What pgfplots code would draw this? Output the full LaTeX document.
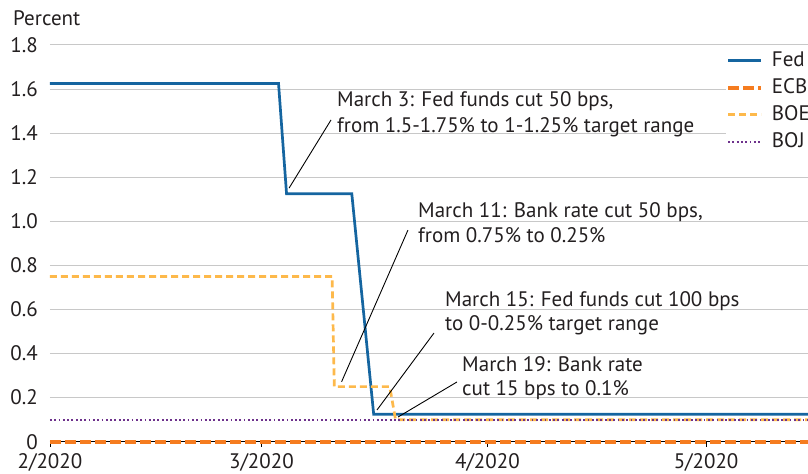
\documentclass[border=0pt]{standalone}
\usepackage{fontspec}
\setmainfont{PT Sans}
\usepackage{pgfplots}
\pgfplotsset{compat=1.18}
\definecolor{fedblue}{RGB}{21,101,160}
\definecolor{ecborange}{RGB}{245,124,32}
\definecolor{boeorange}{RGB}{253,185,75}
\definecolor{bojpurple}{RGB}{110,50,140}
\definecolor{gridgray}{RGB}{200,200,200}
\definecolor{txt}{RGB}{35,31,32}
\begin{document}
\fontsize{21bp}{25bp}\selectfont
\begin{tikzpicture}
\begin{axis}[
  scale only axis, width=758bp, height=396.7bp,
  xmin=0, xmax=103.98, ymin=0, ymax=1.8,
  axis x line*=bottom, axis y line*=left,
  y axis line style={draw=none},
  x axis line style={black, line width=0.8bp},
  xtick={0,29,60,90}, xticklabels={2/2020,3/2020,4/2020,5/2020},
  ytick={0,0.2,0.4,0.6,0.8,1.0,1.2,1.4,1.6,1.8},
  yticklabels={0,0.2,0.4,0.6,0.8,1.0,1.2,1.4,1.6,1.8},
  tick align=outside, major tick length=5bp,
  xtick style={black, line width=0.8bp},
  ytick style={draw=none},
  ticklabel style={text=txt, font=\fontsize{21bp}{25bp}\selectfont},
  yticklabel style={xshift=0bp},
  ymajorgrids, grid style={gridgray, line width=1bp},
  clip=false,
  legend style={at={(rel axis cs:0.8918,0.990)}, anchor=north west, draw=none, fill=white,
    inner xsep=0bp, inner ysep=2bp, text=txt, font=\fontsize{21bp}{25bp}\selectfont,
    row sep=8bp, column sep=8.7bp,
    nodes={inner sep=0bp, text height=15bp, text depth=4bp}},
  legend cell align=left,
  legend image code/.code={\draw[#1] (0bp,0bp) -- (33bp,0bp);},
]
\addplot[fedblue, line width=2.7bp, line join=miter] coordinates {(0,1.625) (31.35,1.625) (32.45,1.125) (41.4,1.125) (44.4,0.125) (103.98,0.125)};
\addlegendentry{Fed}
\addplot[ecborange, line width=4bp, dash pattern=on 11bp off 4bp] coordinates {(0,0) (103.98,0)};
\addlegendentry{ECB}
\addplot[boeorange, line width=2.7bp, dash pattern=on 7bp off 4bp] coordinates {(0,0.75) (38.7,0.75) (39.0,0.25) (46.6,0.25) (47.4,0.1) (103.98,0.1)};
\addlegendentry{BOE}
\addplot[bojpurple, line width=2bp, dash pattern=on 1.8bp off 2.5bp] coordinates {(0,0.1) (103.98,0.1)};
\addlegendentry{BOJ}
% leader lines
\draw[black, line width=0.9bp] (axis cs:38.55,1.46) -- (axis cs:32.8,1.151);
\draw[black, line width=0.9bp] (axis cs:49.1,0.960) -- (axis cs:40.0,0.272);
\draw[black, line width=0.9bp] (axis cs:52.67,0.493) -- (axis cs:44.86,0.144);
\draw[black, line width=0.9bp] (axis cs:55.83,0.271) -- (axis cs:47.74,0.112);
% annotation text
\begin{scope}[every node/.style={anchor=base west, inner sep=0bp, text=txt}]
\node at (axis cs:39.37,1.519) {March 3: Fed funds cut 50 bps,};
\node at (axis cs:39.37,1.405) {from 1.5-1.75\% to 1-1.25\% target range};
\node at (axis cs:50.48,1.0195) {March 11: Bank rate cut 50 bps,};
\node at (axis cs:50.48,0.906) {from 0.75\% to 0.25\%};
\node at (axis cs:54.18,0.6157) {March 15: Fed funds cut 100 bps};
\node at (axis cs:54.18,0.5068) {to 0-0.25\% target range};
\node at (axis cs:56.52,0.3163) {March 19: Bank rate};
\node at (axis cs:56.52,0.2074) {cut 15 bps to 0.1\%};
\node at (rel axis cs:-0.0488,1.0479) {Percent};
\end{scope}
\end{axis}
\pgfresetboundingbox
\path[use as bounding box] (-50bp,-32.3bp) rectangle (758bp,441.7bp);
\end{tikzpicture}
\end{document}
